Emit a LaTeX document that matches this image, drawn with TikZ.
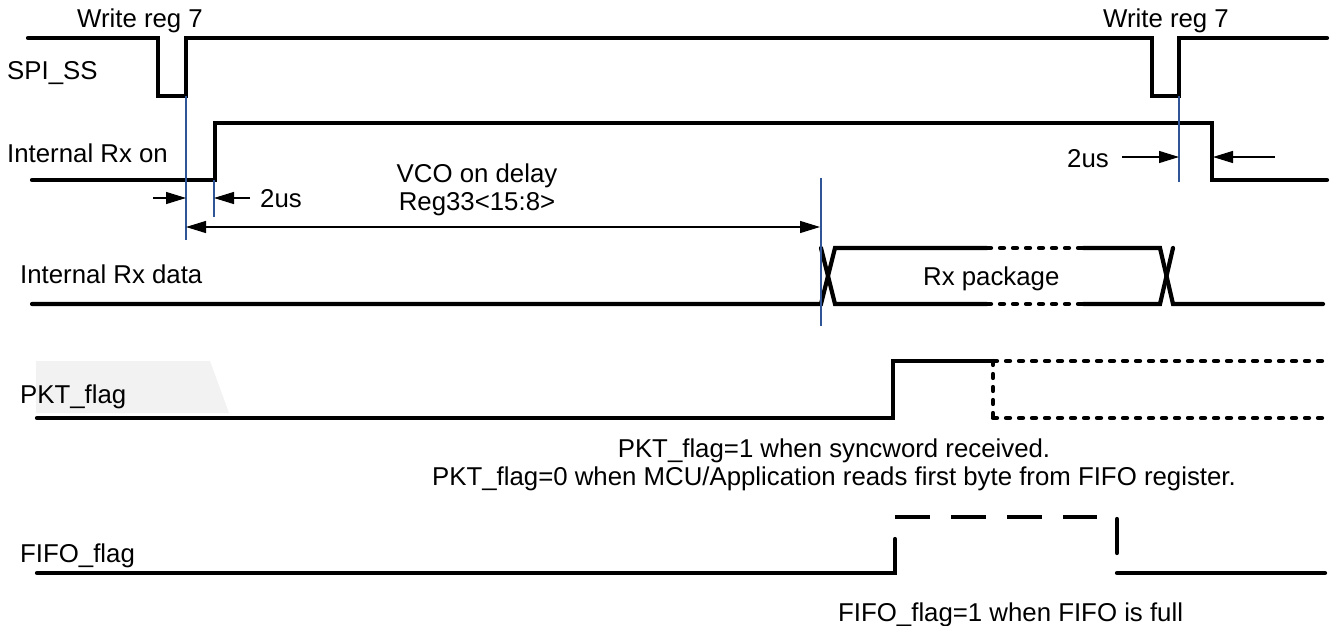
\documentclass[tikz,border=0pt]{standalone}
\usepackage{fontspec}
\setmainfont{Liberation Sans}
\usetikzlibrary{arrows.meta}
\definecolor{guide}{HTML}{2F5597}
\definecolor{bggray}{HTML}{F2F2F2}
\tikzset{
  sig/.style={line width=4.2pt, line cap=round, line join=miter},
  sigdot/.style={line width=4.2pt, line cap=round, dash pattern=on 4pt off 9pt},
  sigdash/.style={line width=4.2pt, line cap=butt, dash pattern=on 35pt off 21pt},
  guideline/.style={guide, line width=1.4pt},
  dim/.style={line width=1.3pt, -{Triangle[length=20pt,width=12pt]}},
  dimboth/.style={line width=1.3pt, {Triangle[length=20pt,width=12pt]}-{Triangle[length=20pt,width=12pt]}},
  lbl/.style={inner sep=0pt, font=\fontsize{25.8}{30}\selectfont}
}
\begin{document}
\begin{tikzpicture}[x=1pt,y=-1pt]
\useasboundingbox (0,0) rectangle (1330,626);

% light background patch behind PKT_flag label
\fill[bggray] (36,361) -- (210,361) -- (229,413) -- (36,413) -- cycle;

% labels
\node[lbl, anchor=base] (wr1) at (140,28) {Write reg 7};
\node[lbl, anchor=base] (wr2) at (1166,28) {Write reg 7};
\node[lbl, anchor=base west] (lss) at (7,80) {SPI\_SS};
\node[lbl, anchor=base west] (lrxon) at (7,162) {Internal Rx on};
\node[lbl, anchor=base west] (lrxd) at (20,283) {Internal Rx data};
\node[lbl, anchor=base west] (lpkt) at (20,403) {PKT\_flag};
\node[lbl, anchor=base west] (lfifo) at (20,562) {FIFO\_flag};
\node[lbl, anchor=base west] (us1) at (260,207) {2us};
\node[lbl, anchor=base west] (us2) at (1067,167) {2us};
\node[lbl, anchor=base] (vco1) at (477,182) {VCO on delay};
\node[lbl, anchor=base] (vco2) at (477,210) {Reg33<15:8>};
\node[lbl, anchor=base west] (rxp) at (923,285) {Rx package};
\node[lbl, anchor=base] (pkt1) at (834,457) {PKT\_flag=1 when syncword received.};
\node[lbl, anchor=base] (pkt2) at (834,485) {PKT\_flag=0 when MCU/Application reads first byte from FIFO register.};
\node[lbl, anchor=base west] (fifo1) at (838,621) {FIFO\_flag=1 when FIFO is full};

% SPI_SS
\draw[sig] (28,38) -- (158,38) -- (158,96) -- (186,96) -- (186,38) -- (1152,38) -- (1152,96) -- (1179,96) -- (1179,38) -- (1327,38);

% Internal Rx on
\draw[sig] (32,180) -- (215,180) -- (215,123) -- (1212,123) -- (1212,180) -- (1327,180);

% Internal Rx data
\draw[sig] (32,304) -- (821,304) -- (835,248) -- (987,248);
\draw[sig] (821,248) -- (835,304) -- (987,304);
\draw[sigdot] (987,248) -- (1083,248);
\draw[sigdot] (987,304) -- (1083,304);
\draw[sig] (1083,248) -- (1160,248) -- (1173,304) -- (1323,304);
\draw[sig] (1083,304) -- (1160,304) -- (1173,248);

% PKT_flag
\draw[sig] (37,418) -- (893,418) -- (893,361) -- (993,361);
\draw[sigdot] (993,361) -- (1322,361);
\draw[sigdot] (993,361) -- (993,418);
\draw[sigdot] (993,418) -- (1322,418);

% FIFO_flag
\draw[sig] (37,573) -- (895,573) -- (895,539);
\draw[sigdash] (895,517) -- (1097,517);
\draw[sig] (1117,519) -- (1117,553);
\draw[sig] (1117,573) -- (1325,573);

% guide lines
\coordinate (g1t) at (186,96);  \coordinate (g1b) at (186,240);
\coordinate (g2t) at (214,180); \coordinate (g2b) at (214,217);
\coordinate (g3t) at (821,178); \coordinate (g3b) at (821,326);
\coordinate (g4t) at (1179,96); \coordinate (g4b) at (1179,182);
\draw[guideline] (g1t) -- (g1b);
\draw[guideline] (g2t) -- (g2b);
\draw[guideline] (g3t) -- (g3b);
\draw[guideline] (g4t) -- (g4b);

% dimension arrows
\coordinate (a1s) at (153,198); \coordinate (a1e) at (186,198);
\coordinate (a2s) at (250,198); \coordinate (a2e) at (214,198);
\coordinate (vs) at (186,227);  \coordinate (ve) at (820,227);
\coordinate (a3s) at (1122,157); \coordinate (a3e) at (1179,157);
\coordinate (a4s) at (1275,157); \coordinate (a4e) at (1213,157);
\draw[dim] (a1s) -- (a1e);
\draw[dim] (a2s) -- (a2e);
\draw[dimboth] (vs) -- (ve);
\draw[dim] (a3s) -- (a3e);
\draw[dim] (a4s) -- (a4e);
\end{tikzpicture}
\end{document}
